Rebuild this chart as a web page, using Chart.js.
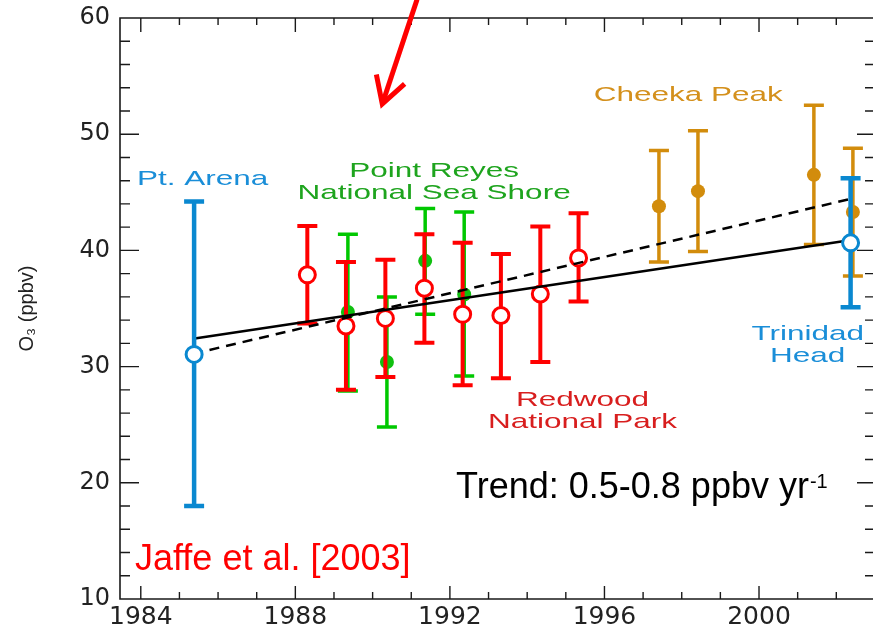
<!DOCTYPE html>
<html>
<head>
<meta charset="utf-8">
<script src="https://cdn.jsdelivr.net/npm/chart.js@4.4.1/dist/chart.umd.min.js"></script>
<style>
  html, body { margin: 0; padding: 0; background: #fff; }
  canvas { display: block; }
</style>
</head>
<body>
<canvas id="o3Chart" width="873" height="629"></canvas>
<script>
// values (year, mean O3, error bar low / high)
const reyesYear = [1989.36, 1990.37, 1991.36, 1992.37];
const reyesO3 = [34.7, 30.4, 39.1, 36.2];
const reyesLow = [27.9, 24.8, 34.5, 29.2];
const reyesHigh = [41.4, 36.0, 43.6, 43.3];

const redwoodYear = [1988.31, 1989.31, 1990.33, 1991.34, 1992.33, 1993.32, 1994.34, 1995.33];
const redwoodO3 = [37.9, 33.5, 34.15, 36.75, 34.5, 34.4, 36.25, 39.35];
const redwoodLow = [33.7, 28.0, 29.1, 32.05, 28.4, 29.0, 30.4, 35.6];
const redwoodHigh = [42.1, 39.0, 39.2, 41.4, 40.65, 39.7, 42.05, 43.2];

const cheekaYear = [1997.41, 1998.42, 2001.42, 2002.43];
const cheekaO3 = [43.8, 45.1, 46.5, 43.3];
const cheekaLow = [39.0, 39.9, 40.5, 37.8];
const cheekaHigh = [48.6, 50.3, 52.5, 48.8];

// Pt. Arena and Trinidad Head
const coastYear = [1985.38, 2002.37];
const coastO3 = [31.05, 40.65];
const coastLow = [18.0, 35.1];
const coastHigh = [44.2, 46.2];

const trendYear = [1985.35, 2002.39];
const trendSolid = [32.4, 40.9];
const trendDashed = [31.1, 44.45];

const xTicks = [1984, 1988, 1992, 1996, 2000];
const yTicks = [10, 20, 30, 40, 50, 60];

// arrow at the top, in data units: tail, tip
const arrowFrom = [1991.15, 61.6];
const arrowTo = [1990.25, 52.6];

const BLUE = '#0a88d0';
const GREEN = '#00c800';
const RED = '#ff0000';
const GOLD = '#d28c0c';

const siteLabels = [
  { lines: ['Pt. Arena'], x: 1985.60, y: 45.63, color: '#1a8ed8' },
  { lines: ['Point Reyes', 'National Sea Shore'], x: 1991.59, y: 46.34, color: '#1ea41e' },
  { lines: ['Cheeka Peak'], x: 1998.17, y: 52.88, color: '#d4901c' },
  { lines: ['Trinidad', 'Head'], x: 2001.26, y: 32.29, color: '#1a8ed8' },
  { lines: ['Redwood', 'National Park'], x: 1995.43, y: 26.63, color: '#d81e1e' }
];

function points(xs, ys) {
  return xs.map((x, i) => ({ x: x, y: ys[i] }));
}

const decor = {
  id: 'decor',
  beforeDatasetDraw(chart, args) {
    const ds = chart.data.datasets[args.index];
    if (!ds.errLow) return;
    const ctx = chart.ctx, xs = chart.scales.x, ys = chart.scales.y;
    ctx.save();
    ctx.strokeStyle = ds.barColor;
    ctx.lineWidth = ds.barWidth;
    ds.data.forEach((p, i) => {
      const px = xs.getPixelForValue(p.x);
      const top = ys.getPixelForValue(ds.errHigh[i]);
      const bot = ys.getPixelForValue(ds.errLow[i]);
      ctx.beginPath();
      ctx.moveTo(px, top); ctx.lineTo(px, bot);
      ctx.moveTo(px - 10, top); ctx.lineTo(px + 10, top);
      ctx.moveTo(px - 10, bot); ctx.lineTo(px + 10, bot);
      ctx.stroke();
    });
    ctx.restore();
  },
  afterDraw(chart) {
    const ctx = chart.ctx, xs = chart.scales.x, ys = chart.scales.y;
    const a = chart.chartArea;
    ctx.save();
    ctx.strokeStyle = '#1a1a1a';
    ctx.lineWidth = 1.6;
    // frame (right side falls on the canvas edge)
    ctx.beginPath();
    ctx.moveTo(a.right, a.top); ctx.lineTo(a.left, a.top);
    ctx.lineTo(a.left, a.bottom); ctx.lineTo(a.right, a.bottom);
    ctx.stroke();
    // inward ticks
    ctx.lineWidth = 1.4;
    ctx.beginPath();
    for (let yr = 1984; yr <= 2002; yr++) {
      const px = xs.getPixelForValue(yr);
      const major = xTicks.includes(yr);
      ctx.moveTo(px, a.bottom); ctx.lineTo(px, a.bottom - (major ? 13 : 7));
      ctx.moveTo(px, a.top); ctx.lineTo(px, a.top + (major ? 14 : 7));
    }
    for (let v = 12; v < 60; v += 2) {
      const py = ys.getPixelForValue(v);
      const major = yTicks.includes(v);
      ctx.moveTo(a.left, py); ctx.lineTo(a.left + (major ? 19 : 10), py);
      ctx.moveTo(a.right, py); ctx.lineTo(a.right - (major ? 16 : 8), py);
    }
    ctx.stroke();

    // site names, wide lettering
    ctx.textAlign = 'center';
    ctx.textBaseline = 'alphabetic';
    ctx.font = '21px "Liberation Sans", Arial, sans-serif';
    siteLabels.forEach(l => {
      const cx = xs.getPixelForValue(l.x);
      const by = ys.getPixelForValue(l.y);
      ctx.fillStyle = l.color;
      l.lines.forEach((t, i) => {
        ctx.save();
        ctx.translate(cx, by + i * 22.5);
        ctx.scale(1.5, 1);
        ctx.fillText(t, 0, 0);
        ctx.restore();
      });
    });

    // trend note with superscript
    ctx.textAlign = 'left';
    ctx.fillStyle = '#000';
    ctx.font = '36px "Liberation Sans", Arial, sans-serif';
    const tx = xs.getPixelForValue(1992.16), ty = ys.getPixelForValue(18.69);
    const main = 'Trend: 0.5-0.8 ppbv yr';
    ctx.fillText(main, tx, ty);
    const w = ctx.measureText(main).width;
    ctx.font = '20px "Liberation Sans", Arial, sans-serif';
    ctx.fillText('-1', tx + w + 1, ty - 10);

    // citation
    ctx.fillStyle = '#ff0000';
    ctx.font = '36px "Liberation Sans", Arial, sans-serif';
    ctx.fillText('Jaffe et al. [2003]', xs.getPixelForValue(1983.85), ys.getPixelForValue(12.5));

    // red arrow
    const x0 = xs.getPixelForValue(arrowFrom[0]), y0 = ys.getPixelForValue(arrowFrom[1]);
    const x1 = xs.getPixelForValue(arrowTo[0]), y1 = ys.getPixelForValue(arrowTo[1]);
    const ang = Math.atan2(y1 - y0, x1 - x0);
    ctx.strokeStyle = '#ff0000';
    ctx.lineWidth = 5;
    ctx.lineCap = 'butt';
    ctx.lineJoin = 'miter';
    ctx.beginPath();
    ctx.moveTo(x0, y0); ctx.lineTo(x1, y1);
    ctx.stroke();
    ctx.beginPath();
    ctx.moveTo(x1 + 30 * Math.cos(ang + Math.PI - 0.52), y1 + 30 * Math.sin(ang + Math.PI - 0.52));
    ctx.lineTo(x1, y1);
    ctx.lineTo(x1 + 30 * Math.cos(ang + Math.PI + 0.52), y1 + 30 * Math.sin(ang + Math.PI + 0.52));
    ctx.stroke();
    ctx.restore();
  }
};

const datasets = [
  {
    label: 'Point Reyes National Sea Shore',
    data: points(reyesYear, reyesO3),
    errLow: reyesLow, errHigh: reyesHigh, barColor: GREEN, barWidth: 3.5,
    pointRadius: 7, pointBackgroundColor: '#10c010', pointBorderWidth: 0,
    order: 10
  },
  {
    label: 'Redwood National Park',
    data: points(redwoodYear, redwoodO3),
    errLow: redwoodLow, errHigh: redwoodHigh, barColor: RED, barWidth: 4,
    pointRadius: 8, pointBackgroundColor: '#fff', pointBorderColor: RED, pointBorderWidth: 3,
    order: 9
  },
  {
    label: 'Cheeka Peak',
    data: points(cheekaYear, cheekaO3),
    errLow: cheekaLow, errHigh: cheekaHigh, barColor: GOLD, barWidth: 3.5,
    pointRadius: 7, pointBackgroundColor: GOLD, pointBorderWidth: 0,
    order: 8
  },
  {
    label: 'trend low',
    data: points(trendYear, trendSolid),
    showLine: true, borderColor: '#000', borderWidth: 2.5, pointRadius: 0,
    order: 7
  },
  {
    label: 'trend high',
    data: points(trendYear, trendDashed),
    showLine: true, borderColor: '#000', borderWidth: 2.5, borderDash: [10, 7], pointRadius: 0,
    order: 6
  },
  {
    label: 'Pt. Arena / Trinidad Head',
    data: points(coastYear, coastO3),
    errLow: coastLow, errHigh: coastHigh, barColor: BLUE, barWidth: 4.5,
    pointRadius: 8, pointBackgroundColor: '#fff', pointBorderColor: BLUE, pointBorderWidth: 3,
    order: 5
  }
];

const config = {
  type: 'scatter',
  data: { datasets: datasets },
  options: {
    responsive: false,
    animation: false,
    events: [],
    layout: { autoPadding: false, padding: { top: 18, right: 0, bottom: 0, left: 0 } },
    plugins: { legend: { display: false }, tooltip: { enabled: false } },
    scales: {
      x: {
        type: 'linear',
        min: 1983.462,
        max: 2002.95,
        grid: { display: false, drawTicks: false },
        border: { display: false },
        afterBuildTicks: s => { s.ticks = xTicks.map(v => ({ value: v })); },
        afterFit: s => { s.height = 30; s.paddingLeft = 0; s.paddingRight = 0; },
        ticks: {
          padding: 3,
          color: '#222',
          font: { family: '"DejaVu Sans", sans-serif', size: 25 },
          maxRotation: 0,
          callback: v => String(v)
        }
      },
      y: {
        type: 'linear',
        min: 10,
        max: 60,
        grid: { display: false, drawTicks: false },
        border: { display: false },
        afterBuildTicks: s => { s.ticks = yTicks.map(v => ({ value: v })); },
        afterFit: s => { s.width = 120; s.paddingTop = 0; s.paddingBottom = 0; },
        title: {
          display: true,
          text: 'O₃ (ppbv)',
          color: '#222',
          font: { family: '"Liberation Sans", Arial, sans-serif', size: 20 },
          padding: { top: 15, bottom: 0 }
        },
        ticks: {
          padding: 10,
          color: '#222',
          font: { family: '"DejaVu Sans", sans-serif', size: 24 },
          callback: v => String(v)
        }
      }
    }
  },
  plugins: [decor]
};

var o3Chart = new Chart(document.getElementById('o3Chart'), config);
</script>
</body>
</html>
